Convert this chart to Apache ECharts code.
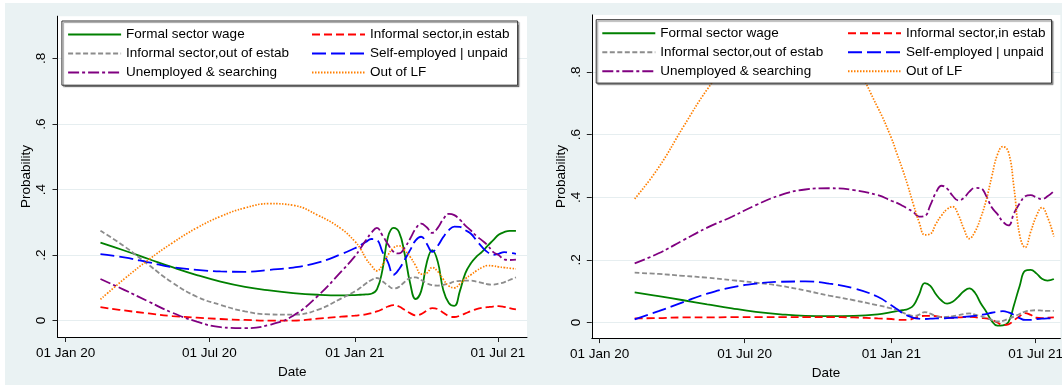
<!DOCTYPE html>
<html>
<head>
<meta charset="utf-8">
<title>Probability by date</title>
<script src="https://cdn.jsdelivr.net/npm/echarts@6/dist/echarts.min.js"></script>
<style>
    html, body { margin: 0; padding: 0; background: #fff; }
    #main { width: 1062px; height: 385px; }
</style>
</head>
<body>
<div id="main"></div>
<script type="text/javascript">
    // sample dates
    var dates = ['2020-02-14','2020-03-15','2020-04-15','2020-05-15','2020-06-15','2020-07-15',
        '2020-08-15','2020-09-15','2020-10-15','2020-11-15','2020-12-15',
        '2021-01-01','2021-01-08','2021-01-15','2021-01-22','2021-01-29','2021-02-05','2021-02-12',
        '2021-02-19','2021-02-26','2021-03-05','2021-03-12','2021-03-19','2021-03-26','2021-04-02',
        '2021-04-09','2021-04-16','2021-04-23','2021-04-30','2021-05-07','2021-05-14','2021-05-21',
        '2021-05-28','2021-06-04','2021-06-11','2021-06-18','2021-06-25','2021-07-02','2021-07-09',
        '2021-07-16','2021-07-24'];
    var xTicks = ['2020-01-01', '2020-07-01', '2021-01-01', '2021-07-01'];
    var yTicks = [0, 0.2, 0.4, 0.6, 0.8];
    var names = ['Formal sector wage', 'Informal sector,in estab', 'Informal sector,out of estab',
        'Self-employed | unpaid', 'Unemployed & searching', 'Out of LF'];
    // legend columns (indexes into names)
    var legendCol1 = [0, 2, 4];
    var legendCol2 = [1, 3, 5];

    // left panel
    var formalL = [0.238,0.214,0.188,0.163,0.139,0.119,0.103,0.092,0.084,0.079,0.077,
        0.078,0.079,0.080,0.082,0.095,0.155,0.255,0.283,0.270,0.205,0.115,0.066,0.090,0.176,0.215,
        0.180,0.093,0.054,0.045,0.090,0.145,0.175,0.195,0.210,0.228,0.245,0.262,0.270,0.274,0.274];
    var inEstabL = [0.041,0.031,0.022,0.014,0.009,0.005,0.002,0.000,0.000,0.006,0.012,
        0.015,0.017,0.019,0.023,0.028,0.035,0.043,0.047,0.043,0.033,0.023,0.016,0.020,0.030,0.038,
        0.035,0.024,0.014,0.011,0.015,0.022,0.029,0.035,0.039,0.041,0.043,0.044,0.042,0.038,0.034];
    var outEstabL = [0.274,0.227,0.170,0.116,0.073,0.048,0.028,0.019,0.018,0.033,0.068,
        0.089,0.100,0.113,0.124,0.130,0.120,0.107,0.098,0.103,0.118,0.130,0.132,0.124,0.114,0.108,
        0.107,0.109,0.113,0.119,0.121,0.122,0.122,0.119,0.115,0.111,0.110,0.113,0.117,0.124,0.132];
    var selfEmpL = [0.203,0.193,0.178,0.163,0.155,0.150,0.149,0.155,0.162,0.177,0.203,
        0.221,0.230,0.240,0.249,0.246,0.210,0.178,0.140,0.157,0.185,0.215,0.245,0.256,0.235,0.210,
        0.228,0.255,0.276,0.287,0.286,0.276,0.265,0.245,0.225,0.209,0.201,0.204,0.209,0.207,0.204];
    var unempL = [0.127,0.094,0.058,0.024,-0.003,-0.020,-0.023,-0.013,0.015,0.075,0.150,
        0.196,0.220,0.245,0.268,0.283,0.260,0.233,0.210,0.205,0.222,0.250,0.280,0.296,0.285,0.268,
        0.283,0.310,0.326,0.322,0.308,0.290,0.275,0.258,0.245,0.230,0.210,0.200,0.187,0.185,0.186];
    var outLFL = [0.065,0.127,0.186,0.237,0.283,0.318,0.344,0.357,0.352,0.322,0.280,
        0.242,0.220,0.190,0.168,0.152,0.170,0.200,0.222,0.228,0.215,0.195,0.168,0.142,0.145,0.162,
        0.150,0.126,0.106,0.100,0.112,0.128,0.140,0.152,0.162,0.168,0.167,0.164,0.162,0.160,0.158];

    // right panel
    var formalR = [0.096,0.084,0.071,0.058,0.045,0.034,0.026,0.021,0.020,0.021,0.026,
        0.033,0.036,0.039,0.043,0.055,0.090,0.126,0.117,0.090,0.070,0.060,0.066,0.082,0.100,0.109,
        0.095,0.062,0.035,0.005,-0.010,-0.009,0.001,0.056,0.116,0.165,0.168,0.157,0.140,0.134,0.139];
    var inEstabR = [0.013,0.014,0.016,0.016,0.017,0.017,0.017,0.017,0.017,0.016,0.013,
        0.011,0.009,0.008,0.008,0.013,0.019,0.021,0.021,0.020,0.017,0.015,0.015,0.016,0.017,0.018,
        0.017,0.014,0.013,0.008,0.000,-0.008,-0.006,0.007,0.020,0.030,0.024,0.015,0.014,0.015,0.016];
    var outEstabR = [0.159,0.155,0.149,0.143,0.135,0.127,0.117,0.102,0.086,0.071,0.055,
        0.045,0.039,0.032,0.025,0.021,0.025,0.033,0.028,0.020,0.017,0.018,0.020,0.023,0.027,0.029,
        0.025,0.020,0.015,0.008,0.003,0.005,0.012,0.019,0.027,0.035,0.038,0.039,0.038,0.037,0.037];
    var selfEmpR = [0.010,0.036,0.065,0.092,0.112,0.124,0.130,0.131,0.124,0.109,0.082,
        0.055,0.043,0.030,0.021,0.015,0.012,0.011,0.012,0.013,0.013,0.014,0.015,0.016,0.018,0.019,
        0.021,0.024,0.027,0.031,0.034,0.036,0.032,0.024,0.014,0.008,0.008,0.011,0.012,0.013,0.013];
    var unempR = [0.189,0.221,0.263,0.303,0.338,0.375,0.407,0.425,0.429,0.423,0.407,
        0.389,0.382,0.373,0.363,0.352,0.338,0.340,0.375,0.415,0.437,0.428,0.405,0.390,0.398,0.418,
        0.430,0.429,0.405,0.368,0.347,0.322,0.310,0.349,0.380,0.403,0.407,0.400,0.394,0.403,0.420];
    var outLFR = [0.395,0.495,0.625,0.745,0.845,0.915,0.950,0.940,0.895,0.824,0.687,
        0.590,0.540,0.490,0.435,0.375,0.320,0.280,0.283,0.315,0.342,0.362,0.370,0.345,0.300,0.268,
        0.290,0.333,0.390,0.465,0.535,0.562,0.545,0.430,0.280,0.240,0.290,0.340,0.367,0.337,0.275];

    var panels = [
        [formalL, inEstabL, outEstabL, selfEmpL, unempL, outLFL],
        [formalR, inEstabR, outEstabR, selfEmpR, unempR, outLFR]
    ];

    var lineStyles = [
        {color: '#008000', type: 'solid', width: 1.8},
        {color: '#ff0000', type: [8, 4], width: 1.8},
        {color: '#8c8c8c', type: [5, 2.5], width: 1.8},
        {color: '#0000ff', type: [14, 5], width: 1.8},
        {color: '#800080', type: [11, 3, 3, 3], width: 1.8},
        {color: '#ff7f00', type: [1.5, 1.5], width: 1.7}
    ];

    var MONTHS = ['Jan','Feb','Mar','Apr','May','Jun','Jul','Aug','Sep','Oct','Nov','Dec'];
    var DAY = 86400000;
    function toTime(s) {
        var p = s.split('-');
        return new Date(+p[0], +p[1] - 1, +p[2]).getTime();
    }
    var base = toTime('2020-01-01');
    var xTickTimes = xTicks.map(toTime);
    var font = 'Liberation Sans, Arial, sans-serif';

    var myChart = echarts.init(document.getElementById('main'));

    // value axis on timestamps, ticks only at the four dates
    function xAxis(idx, minDay, maxDay) {
        return {
            type: 'value', gridIndex: idx,
            min: base + minDay * DAY, max: base + maxDay * DAY,
            name: 'Date', nameLocation: 'middle', nameGap: 23,
            nameTextStyle: {color: '#000', fontSize: 13.5, fontFamily: font},
            axisLine: {show: true, onZero: false, lineStyle: {color: '#000', width: 1}},
            axisTick: {show: true, length: 5, customValues: xTickTimes, lineStyle: {color: '#222'}},
            axisLabel: {
                customValues: xTickTimes, margin: 9, color: '#000', fontSize: 13.5, fontFamily: font,
                formatter: function (v) {
                    var d = new Date(v);
                    return '01 ' + MONTHS[d.getMonth()] + ' ' + String(d.getFullYear()).slice(2);
                }
            },
            splitLine: {show: false}
        };
    }
    function yAxis(idx, max) {
        return {
            type: 'value', gridIndex: idx, min: -0.05, max: max,
            name: 'Probability', nameLocation: 'middle', nameGap: 24,
            nameTextStyle: {color: '#000', fontSize: 13.5, fontFamily: font},
            axisLine: {show: true, onZero: false, lineStyle: {color: '#000', width: 1}},
            axisTick: {show: true, length: 5, customValues: yTicks, lineStyle: {color: '#222'}},
            axisLabel: {
                customValues: yTicks, rotate: 90, margin: 9, color: '#000', fontSize: 13.5, fontFamily: font,
                formatter: function (v) {
                    return v === 0 ? '0' : String(+v.toFixed(1)).replace(/^0/, '');
                }
            },
            splitLine: {show: true, lineStyle: {color: '#e6eef0', width: 1}}
        };
    }
    // first column carries the framed white box (its padding spans the second column)
    function legendBox(left, top, padding) {
        return {
            data: legendCol1.map(function (k) { return names[k]; }),
            left: left, top: top, orient: 'vertical', padding: padding,
            itemWidth: 53, itemHeight: 9, itemGap: 5, selectedMode: false,
            backgroundColor: '#fff', borderColor: '#333', borderWidth: 1,
            shadowColor: 'rgba(0,0,0,0.4)', shadowBlur: 1, shadowOffsetX: 1.5, shadowOffsetY: 1.5,
            itemStyle: {opacity: 0},
            textStyle: {color: '#000', fontSize: 13.5, fontFamily: font, width: 170}
        };
    }
    function legendCol(left, top) {
        return {
            data: legendCol2.map(function (k) { return names[k]; }),
            left: left, top: top, orient: 'vertical', padding: 0, z: 6,
            itemWidth: 53, itemHeight: 9, itemGap: 5, selectedMode: false,
            itemStyle: {opacity: 0},
            textStyle: {color: '#000', fontSize: 13.5, fontFamily: font}
        };
    }

    var series = [];
    panels.forEach(function (list, p) {
        list.forEach(function (vals, k) {
            series.push({
                type: 'line', name: names[k], xAxisIndex: p, yAxisIndex: p,
                data: dates.map(function (d, i) { return [toTime(d), vals[i]]; }),
                smooth: 0.45, symbol: 'none', showSymbol: false,
                itemStyle: {color: lineStyles[k].color},
                lineStyle: lineStyles[k]
            });
        });
    });

    var option = {
        animation: false,
        backgroundColor: '#eaf2f3',
        grid: [
            {left: 57.5, top: 16.2, width: 469.5, height: 320.8, show: true,
                backgroundColor: '#fff', borderWidth: 0, outerBoundsMode: 'none'},
            {left: 591.8, top: 14.9, width: 468.6, height: 323.2, show: true,
                backgroundColor: '#fff', borderWidth: 0, outerBoundsMode: 'none'}
        ],
        xAxis: [xAxis(0, -10.4, 584), xAxis(1, -9.8, 578.2)],
        yAxis: [yAxis(0, 0.929), yAxis(1, 0.983)],
        legend: [
            legendBox(61.9, 21, [6.5, 228.7, 5.7, 5.2]),
            legendCol(311, 27.5),
            legendBox(596.2, 19.7, [6.6, 228.4, 4.8, 5.1]),
            legendCol(847, 26.3)
        ],
        graphic: [
            {type: 'rect', shape: {x: 0, y: 0, width: 1062, height: 3}, style: {fill: '#fff'}, silent: true},
            {type: 'rect', shape: {x: 0, y: 0, width: 5, height: 385}, style: {fill: '#fff'}, silent: true}
        ],
        series: series
    };

    myChart.setOption(option);
</script>
</body>
</html>
